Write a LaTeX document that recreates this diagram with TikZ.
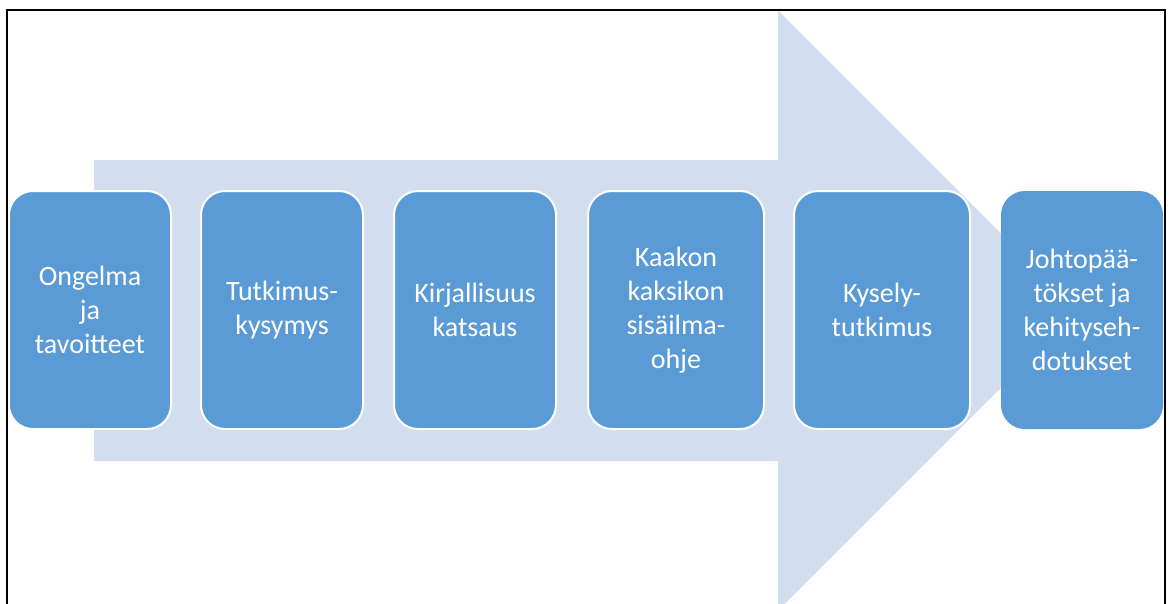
\documentclass[tikz,border=0pt]{standalone}
\usepackage{fontspec}
\setmainfont{Carlito}
\usetikzlibrary{positioning}
\definecolor{stepblue}{RGB}{91,155,213}
\definecolor{arrowpale}{RGB}{210,222,239}

\begin{document}
\begin{tikzpicture}[
  x=1pt, y=-1pt,
  phase/.style={rectangle, rounded corners=24pt, fill=stepblue, draw=white, line width=2pt,
    minimum height=238pt, inner sep=2pt, align=center, text=white,
    font=\fontsize{28}{34}\selectfont}
]
\useasboundingbox (0,0) rectangle (1171,603);
\clip (0,0) rectangle (1171,603);
% big arrow behind the steps
\fill[arrowpale] (94,160) -- (778,160) -- (778,10.5) -- (1078,310.5) -- (778,610.5)
  -- (778,461) -- (94,461) -- cycle;
% steps
\node[phase, minimum width=162pt] (ongelma) at (90,310) {Ongelma\\ja\\tavoitteet};
\node[phase, minimum width=162pt] (kysymys) at (282,310) {Tutkimus-\\kysymys};
\node[phase, minimum width=162pt] (katsaus) at (475,310) {Kirjallisuus\\katsaus};
\node[phase, minimum width=176pt] (ohje) at (676,310) {Kaakon\\kaksikon\\sisäilma-\\ohje};
\node[phase, minimum width=176pt] (kysely) at (882,310) {Kysely-\\tutkimus};
\node[phase, minimum width=162pt, draw=none] (johto) at (1082,310) {Johtopää-\\tökset ja\\kehityseh-\\dotukset};
% frame
\draw[line width=2pt] (7,700) -- (7,10) -- (1165,10) -- (1165,700);
\end{tikzpicture}
\end{document}
